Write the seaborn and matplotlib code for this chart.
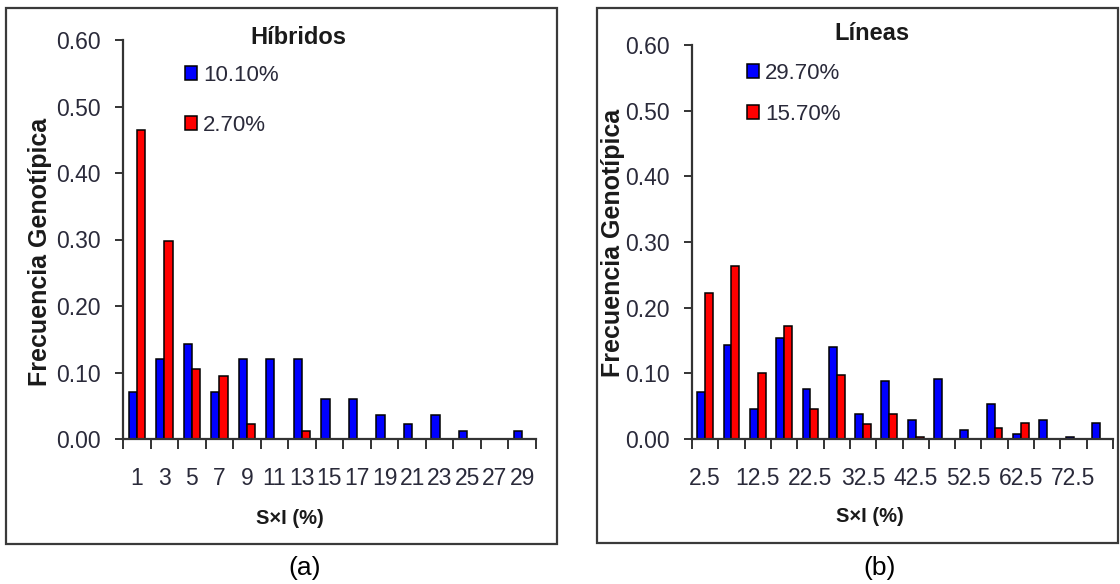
import numpy as np
import pandas as pd
import matplotlib
matplotlib.use("Agg")
import matplotlib.pyplot as plt
from matplotlib.patches import Rectangle
import seaborn as sns

# ---- data -------------------------------------------------------------
hib_classes = ["1", "3", "5", "7", "9", "11", "13", "15", "17", "19",
               "21", "23", "25", "27", "29"]
hib_blue = [0.070, 0.120, 0.143, 0.070, 0.120, 0.120, 0.120, 0.060, 0.060,
            0.036, 0.023, 0.036, 0.012, 0.000, 0.012]
hib_red = [0.465, 0.298, 0.106, 0.095, 0.023, 0.000, 0.012, 0.000, 0.000,
           0.000, 0.000, 0.000, 0.000, 0.000, 0.000]
hib_series = ["10.10%", "2.70%"]

lin_classes = ["2.5", "7.5", "12.5", "17.5", "22.5", "27.5", "32.5", "37.5",
               "42.5", "47.5", "52.5", "57.5", "62.5", "67.5", "72.5", "77.5"]
lin_blue = [0.071, 0.143, 0.045, 0.154, 0.076, 0.140, 0.038, 0.089,
            0.029, 0.092, 0.014, 0.054, 0.007, 0.029, 0.003, 0.024]
lin_red = [0.222, 0.263, 0.100, 0.172, 0.045, 0.098, 0.023, 0.038,
           0.003, 0.000, 0.000, 0.016, 0.024, 0.000, 0.000, 0.000]
lin_series = ["29.70%", "15.70%"]
lin_ticklabels = ["2.5", "12.5", "22.5", "32.5", "42.5", "52.5", "62.5", "72.5"]

y_ticks = [0.0, 0.1, 0.2, 0.3, 0.4, 0.5, 0.6]

# ---- style ------------------------------------------------------------
sns.set_style("white")
plt.rcParams["font.family"] = ["Liberation Sans", "DejaVu Sans"]
TEXT = "#1a1a1a"
TICKTXT = "#2a2a3a"
AXC = "#333333"
W, H = 1120, 584

fig = plt.figure(figsize=(W / 100, H / 100), dpi=100)


def fx(px):
    return px / W


def fy(py):
    return 1 - py / H


def panel(box, axrect, classes, blue, red, series, ticklabels, title,
          title_xy, leg_xy, leg_spacing, ylab_xy, xlab_xy, tag_xy, tag):
    # outer frame of the panel
    x0, y0, x1, y1 = box
    fig.patches.append(Rectangle((fx(x0), fy(y1)), fx(x1 - x0), (y1 - y0) / H,
                                 transform=fig.transFigure, fill=False,
                                 edgecolor="#3a3a3a", linewidth=1.6))
    l, t, r, b = axrect
    ax = fig.add_axes([fx(l), fy(b), fx(r - l), (b - t) / H])

    df = pd.DataFrame({
        "clase": classes * 2,
        "freq": list(blue) + list(red),
        "grupo": [series[0]] * len(classes) + [series[1]] * len(classes),
    })
    sns.barplot(data=df, x="clase", y="freq", hue="grupo", order=classes,
                hue_order=series, palette=["#0000FF", "#FF0000"],
                edgecolor="black", linewidth=1.1, width=0.6, gap=0,
                saturation=1, ax=ax)

    n = len(classes)
    ax.set_xlim(-0.5, n - 0.5)
    ax.set_ylim(0, 0.6)
    ax.set_yticks(y_ticks)
    ax.set_yticklabels([f"{v:.2f}" for v in y_ticks])

    # tick marks at class boundaries, labels at class centres
    ax.set_xticks(np.arange(n + 1) - 0.5)
    ax.set_xticklabels([])
    centres = [classes.index(c) for c in ticklabels]
    ax.set_xticks(centres, minor=True)
    ax.set_xticklabels(ticklabels, minor=True)
    ax.tick_params(axis="x", which="major", direction="out", length=7,
                   width=1.4, color=AXC, bottom=True)
    ax.tick_params(axis="x", which="minor", length=0, pad=20,
                   labelsize=16.5, labelcolor=TICKTXT)
    ax.tick_params(axis="y", which="major", direction="out", length=6,
                   width=1.4, color=AXC, left=True, pad=10, labelsize=16.5,
                   labelcolor=TICKTXT)

    for s in ["top", "right"]:
        ax.spines[s].set_visible(False)
    for s in ["left", "bottom"]:
        ax.spines[s].set_color(AXC)
        ax.spines[s].set_linewidth(1.6)

    ax.set_xlabel("S×I (%)", fontsize=14.5, fontweight="bold", color=TEXT)
    ax.set_ylabel("Frecuencia Genotípica", fontsize=18, fontweight="bold",
                  color=TEXT)
    ax.xaxis.label.set(va="center", ha="center")
    ax.yaxis.label.set(va="center", ha="center")
    ax.xaxis.set_label_coords((xlab_xy[0] - l) / (r - l),
                              (b - xlab_xy[1]) / (b - t))
    ax.yaxis.set_label_coords((ylab_xy[0] - l) / (r - l),
                              (b - ylab_xy[1]) / (b - t))

    fig.text(fx(title_xy[0]), fy(title_xy[1]), title, fontsize=17,
             fontweight="bold", color=TEXT, ha="center", va="center")
    fig.text(fx(tag_xy[0]), fy(tag_xy[1]), tag, fontsize=19, color="black",
             ha="center", va="center")

    handles, labels = ax.get_legend_handles_labels()
    ax.legend(handles, labels, loc="upper left",
              bbox_to_anchor=(fx(leg_xy[0]), fy(leg_xy[1])),
              bbox_transform=fig.transFigure, frameon=False, fontsize=16,
              handlelength=0.55, handleheight=0.6, handletextpad=0.25,
              labelspacing=leg_spacing, borderpad=0, borderaxespad=0,
              labelcolor=TICKTXT)
    return ax


panel(box=(6, 8, 557, 544), axrect=(123, 40, 536, 439),
      classes=hib_classes, blue=hib_blue, red=hib_red, series=hib_series,
      ticklabels=hib_classes, title="Híbridos", title_xy=(298, 37),
      leg_xy=(185, 65), leg_spacing=1.3, ylab_xy=(40, 252),
      xlab_xy=(290, 518), tag_xy=(305, 568), tag="(a)")

panel(box=(597, 8, 1118, 543), axrect=(692, 45, 1113, 439),
      classes=lin_classes, blue=lin_blue, red=lin_red, series=lin_series,
      ticklabels=lin_ticklabels, title="Líneas", title_xy=(872, 33),
      leg_xy=(747, 63), leg_spacing=0.9, ylab_xy=(613, 243),
      xlab_xy=(870, 517), tag_xy=(880, 568), tag="(b)")

fig.savefig("out.png", dpi=100)
